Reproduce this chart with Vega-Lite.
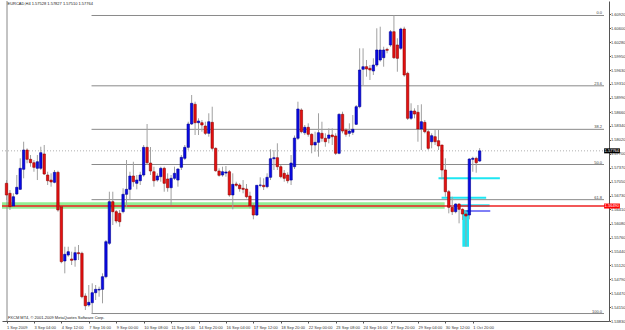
{
  "$schema": "https://vega.github.io/schema/vega-lite/v6.json",
  "width": 607,
  "height": 320,
  "autosize": "none",
  "padding": {"left": 2, "top": 1, "right": 16, "bottom": 9},
  "background": "#ffffff",
  "config": {
    "view": {"stroke": null},
    "axis": {"labelFont": "Liberation Sans", "labelFontSize": 4, "labelColor": "#333", "domainColor": "#555", "tickColor": "#555", "grid": false, "title": null, "labelOverlap": false, "labelFlush": false, "tickCount": 200},
    "text": {"font": "Liberation Sans"}
  },
  "datasets": {
    "candles": [
      {"i":0,"o":1.57013,"h":1.57089,"l":1.56627,"c":1.56743},
      {"i":1,"o":1.56782,"h":1.56858,"l":1.56396,"c":1.56472},
      {"i":2,"o":1.56488,"h":1.56782,"l":1.56472,"c":1.56703},
      {"i":3,"o":1.56766,"h":1.57205,"l":1.56743,"c":1.56921},
      {"i":4,"o":1.56874,"h":1.57591,"l":1.56858,"c":1.57360},
      {"i":5,"o":1.57337,"h":1.57975,"l":1.57129,"c":1.57783},
      {"i":6,"o":1.57783,"h":1.57822,"l":1.57476,"c":1.57568},
      {"i":7,"o":1.57568,"h":1.57667,"l":1.57397,"c":1.57489},
      {"i":8,"o":1.57489,"h":1.57552,"l":1.57281,"c":1.57383},
      {"i":9,"o":1.57360,"h":1.57667,"l":1.57089,"c":1.57512},
      {"i":10,"o":1.57360,"h":1.57859,"l":1.57321,"c":1.57721},
      {"i":11,"o":1.57691,"h":1.57899,"l":1.57205,"c":1.57228},
      {"i":12,"o":1.57205,"h":1.57281,"l":1.56974,"c":1.57073},
      {"i":13,"o":1.57089,"h":1.57244,"l":1.56935,"c":1.57043},
      {"i":14,"o":1.57036,"h":1.57321,"l":1.57013,"c":1.57267},
      {"i":15,"o":1.57267,"h":1.57304,"l":1.56357,"c":1.56396},
      {"i":16,"o":1.56472,"h":1.56488,"l":1.55164,"c":1.55201},
      {"i":17,"o":1.55217,"h":1.55547,"l":1.54932,"c":1.55372},
      {"i":18,"o":1.55355,"h":1.55547,"l":1.55316,"c":1.55432},
      {"i":19,"o":1.55263,"h":1.55432,"l":1.55124,"c":1.55233},
      {"i":20,"o":1.55240,"h":1.55547,"l":1.55085,"c":1.55409},
      {"i":21,"o":1.55409,"h":1.55587,"l":1.55240,"c":1.55386},
      {"i":22,"o":1.55395,"h":1.55432,"l":1.54354,"c":1.54391},
      {"i":23,"o":1.54408,"h":1.54470,"l":1.54084,"c":1.54183},
      {"i":24,"o":1.54199,"h":1.54662,"l":1.54160,"c":1.54262},
      {"i":25,"o":1.54253,"h":1.54701,"l":1.54003,"c":1.54484},
      {"i":26,"o":1.54484,"h":1.54662,"l":1.54315,"c":1.54562},
      {"i":27,"o":1.54546,"h":1.54623,"l":1.54391,"c":1.54562},
      {"i":28,"o":1.54562,"h":1.54932,"l":1.54239,"c":1.54854},
      {"i":29,"o":1.54854,"h":1.55702,"l":1.54817,"c":1.55663},
      {"i":30,"o":1.55626,"h":1.56819,"l":1.55587,"c":1.56588},
      {"i":31,"o":1.56588,"h":1.56819,"l":1.56049,"c":1.56357},
      {"i":32,"o":1.56357,"h":1.56396,"l":1.56088,"c":1.56142},
      {"i":33,"o":1.56319,"h":1.56396,"l":1.56010,"c":1.56125},
      {"i":34,"o":1.56357,"h":1.56898,"l":1.56319,"c":1.56759},
      {"i":35,"o":1.56759,"h":1.57552,"l":1.56472,"c":1.56874},
      {"i":36,"o":1.56874,"h":1.57281,"l":1.56627,"c":1.57182},
      {"i":37,"o":1.57182,"h":1.57512,"l":1.56935,"c":1.57050},
      {"i":38,"o":1.57013,"h":1.57205,"l":1.56874,"c":1.57089},
      {"i":39,"o":1.57073,"h":1.57281,"l":1.56974,"c":1.57205},
      {"i":40,"o":1.57205,"h":1.57899,"l":1.57166,"c":1.57845},
      {"i":41,"o":1.57845,"h":1.58384,"l":1.57436,"c":1.57489},
      {"i":42,"o":1.57482,"h":1.57852,"l":1.57205,"c":1.57298},
      {"i":43,"o":1.57281,"h":1.57397,"l":1.56935,"c":1.57073},
      {"i":44,"o":1.57089,"h":1.57244,"l":1.57050,"c":1.57182},
      {"i":45,"o":1.57166,"h":1.57397,"l":1.57050,"c":1.57360},
      {"i":46,"o":1.57360,"h":1.57397,"l":1.56819,"c":1.57013},
      {"i":47,"o":1.57113,"h":1.57244,"l":1.56819,"c":1.56911},
      {"i":48,"o":1.56911,"h":1.57205,"l":1.56511,"c":1.57129},
      {"i":49,"o":1.57129,"h":1.57397,"l":1.57089,"c":1.57244},
      {"i":50,"o":1.57089,"h":1.57360,"l":1.56935,"c":1.57344},
      {"i":51,"o":1.57383,"h":1.57667,"l":1.57321,"c":1.57614},
      {"i":52,"o":1.57591,"h":1.57899,"l":1.57552,"c":1.57845},
      {"i":53,"o":1.57845,"h":1.58437,"l":1.57783,"c":1.58384},
      {"i":54,"o":1.58384,"h":1.59055,"l":1.58361,"c":1.58863},
      {"i":55,"o":1.58840,"h":1.58900,"l":1.58130,"c":1.58414},
      {"i":56,"o":1.58414,"h":1.58516,"l":1.58130,"c":1.58453},
      {"i":57,"o":1.58414,"h":1.58477,"l":1.58206,"c":1.58361},
      {"i":58,"o":1.58338,"h":1.58437,"l":1.58130,"c":1.58169},
      {"i":59,"o":1.58169,"h":1.58632,"l":1.58091,"c":1.58437},
      {"i":60,"o":1.58423,"h":1.58784,"l":1.57783,"c":1.57822},
      {"i":61,"o":1.57822,"h":1.57845,"l":1.57281,"c":1.57304},
      {"i":62,"o":1.57298,"h":1.57360,"l":1.57166,"c":1.57198},
      {"i":63,"o":1.57205,"h":1.57397,"l":1.57166,"c":1.57281},
      {"i":64,"o":1.57250,"h":1.57413,"l":1.57166,"c":1.57275},
      {"i":65,"o":1.57281,"h":1.57321,"l":1.56703,"c":1.56743},
      {"i":66,"o":1.56743,"h":1.57244,"l":1.56412,"c":1.56990},
      {"i":67,"o":1.56997,"h":1.57050,"l":1.56935,"c":1.56967},
      {"i":68,"o":1.56974,"h":1.57013,"l":1.56819,"c":1.56888},
      {"i":69,"o":1.56898,"h":1.57089,"l":1.56782,"c":1.56874},
      {"i":70,"o":1.56881,"h":1.56997,"l":1.56666,"c":1.56703},
      {"i":71,"o":1.56720,"h":1.56819,"l":1.56435,"c":1.56488},
      {"i":72,"o":1.56495,"h":1.56551,"l":1.56181,"c":1.56280},
      {"i":73,"o":1.56280,"h":1.56974,"l":1.56257,"c":1.56967},
      {"i":74,"o":1.56967,"h":1.57152,"l":1.56921,"c":1.56974},
      {"i":75,"o":1.56967,"h":1.57129,"l":1.56858,"c":1.56935},
      {"i":76,"o":1.56935,"h":1.57244,"l":1.56898,"c":1.57152},
      {"i":77,"o":1.57152,"h":1.57799,"l":1.57089,"c":1.57582},
      {"i":78,"o":1.57582,"h":1.57783,"l":1.57321,"c":1.57605},
      {"i":79,"o":1.57605,"h":1.57938,"l":1.57321,"c":1.57397},
      {"i":80,"o":1.57397,"h":1.57436,"l":1.57129,"c":1.57166},
      {"i":81,"o":1.57244,"h":1.57321,"l":1.57050,"c":1.57129},
      {"i":82,"o":1.57205,"h":1.57267,"l":1.57013,"c":1.57073},
      {"i":83,"o":1.57089,"h":1.57667,"l":1.56974,"c":1.57482},
      {"i":84,"o":1.57397,"h":1.58118,"l":1.57344,"c":1.58060},
      {"i":85,"o":1.58054,"h":1.58900,"l":1.58014,"c":1.58731},
      {"i":86,"o":1.58708,"h":1.58747,"l":1.58169,"c":1.58206},
      {"i":87,"o":1.58183,"h":1.58361,"l":1.58130,"c":1.58308},
      {"i":88,"o":1.58308,"h":1.58400,"l":1.58091,"c":1.58146},
      {"i":89,"o":1.58146,"h":1.58169,"l":1.57707,"c":1.57899},
      {"i":90,"o":1.57899,"h":1.58206,"l":1.57744,"c":1.57961},
      {"i":91,"o":1.57961,"h":1.58632,"l":1.57628,"c":1.58183},
      {"i":92,"o":1.58169,"h":1.58437,"l":1.57975,"c":1.58054},
      {"i":93,"o":1.58054,"h":1.58169,"l":1.57859,"c":1.57975},
      {"i":94,"o":1.58054,"h":1.58285,"l":1.57938,"c":1.58130},
      {"i":95,"o":1.58130,"h":1.58285,"l":1.57899,"c":1.58091},
      {"i":96,"o":1.58107,"h":1.58169,"l":1.57667,"c":1.57707},
      {"i":97,"o":1.57707,"h":1.58632,"l":1.57684,"c":1.58608},
      {"i":98,"o":1.58608,"h":1.58669,"l":1.58169,"c":1.58222},
      {"i":99,"o":1.58245,"h":1.58285,"l":1.58091,"c":1.58146},
      {"i":100,"o":1.58169,"h":1.58400,"l":1.58091,"c":1.58222},
      {"i":101,"o":1.58192,"h":1.58592,"l":1.58130,"c":1.58262},
      {"i":102,"o":1.58377,"h":1.58823,"l":1.58361,"c":1.58784},
      {"i":103,"o":1.58784,"h":1.60134,"l":1.58747,"c":1.59633},
      {"i":104,"o":1.59649,"h":1.60134,"l":1.59286,"c":1.59709},
      {"i":105,"o":1.59709,"h":1.59864,"l":1.59478,"c":1.59656},
      {"i":106,"o":1.59672,"h":1.59748,"l":1.59401,"c":1.59633},
      {"i":107,"o":1.59610,"h":1.59903,"l":1.59517,"c":1.59748},
      {"i":108,"o":1.59748,"h":1.60597,"l":1.59709,"c":1.60095},
      {"i":109,"o":1.59864,"h":1.60634,"l":1.59825,"c":1.60095},
      {"i":110,"o":1.59917,"h":1.60171,"l":1.59709,"c":1.60095},
      {"i":111,"o":1.60111,"h":1.60148,"l":1.60019,"c":1.60088},
      {"i":112,"o":1.60211,"h":1.60557,"l":1.60171,"c":1.60518},
      {"i":113,"o":1.60518,"h":1.60893,"l":1.59887,"c":1.59917},
      {"i":114,"o":1.60211,"h":1.60366,"l":1.59593,"c":1.59903},
      {"i":115,"o":1.60134,"h":1.60611,"l":1.60095,"c":1.60581},
      {"i":116,"o":1.60581,"h":1.60634,"l":1.59478,"c":1.59517},
      {"i":117,"o":1.59556,"h":1.59593,"l":1.58477,"c":1.58516},
      {"i":118,"o":1.58516,"h":1.58863,"l":1.58477,"c":1.58685},
      {"i":119,"o":1.58685,"h":1.58747,"l":1.58516,"c":1.58615},
      {"i":120,"o":1.58655,"h":1.58823,"l":1.57975,"c":1.58269},
      {"i":121,"o":1.58269,"h":1.58840,"l":1.57783,"c":1.58437},
      {"i":122,"o":1.58423,"h":1.58477,"l":1.58169,"c":1.58206},
      {"i":123,"o":1.58206,"h":1.58245,"l":1.57783,"c":1.57822},
      {"i":124,"o":1.57975,"h":1.58169,"l":1.57822,"c":1.58114},
      {"i":125,"o":1.58091,"h":1.58245,"l":1.57899,"c":1.57975},
      {"i":126,"o":1.57998,"h":1.58245,"l":1.57783,"c":1.57876},
      {"i":127,"o":1.57899,"h":1.57899,"l":1.57106,"c":1.57321},
      {"i":128,"o":1.57321,"h":1.57591,"l":1.56703,"c":1.56819},
      {"i":129,"o":1.56819,"h":1.56858,"l":1.56319,"c":1.56458},
      {"i":130,"o":1.56458,"h":1.56703,"l":1.56280,"c":1.56357},
      {"i":131,"o":1.56357,"h":1.56551,"l":1.56319,"c":1.56535},
      {"i":132,"o":1.56535,"h":1.56551,"l":1.56088,"c":1.56412},
      {"i":133,"o":1.56412,"h":1.56435,"l":1.56165,"c":1.56303},
      {"i":134,"o":1.56303,"h":1.56396,"l":1.55547,"c":1.56257},
      {"i":135,"o":1.56280,"h":1.57591,"l":1.56181,"c":1.57575},
      {"i":136,"o":1.57568,"h":1.57628,"l":1.57281,"c":1.57591},
      {"i":137,"o":1.57591,"h":1.57628,"l":1.57258,"c":1.57489},
      {"i":138,"o":1.57528,"h":1.57827,"l":1.57510,"c":1.57764}
    ],
    "fib": [
      {"level":"0.0","p":1.60893,"start":24.8},
      {"level":"23.6","p":1.59267,"start":24.8},
      {"level":"38.2","p":1.58261,"start":24.8},
      {"level":"50.0","p":1.57448,"start":24.8},
      {"level":"61.8","p":1.56635,"start":24.8},
      {"level":"100.0","p":1.54003,"start":24.8}
    ],
    "zones": [
      {"name":"support","i1":-2,"i2":127.8,"p1":1.56574,"p2":1.56426,"kind":"green"},
      {"name":"c1","i1":126.0,"i2":143.9,"p1":1.57152,"p2":1.57106,"kind":"cyan"},
      {"name":"c2","i1":126.9,"i2":139.9,"p1":1.56703,"p2":1.56657,"kind":"cyan"},
      {"name":"c3","i1":132.5,"i2":140.9,"p1":1.56528,"p2":1.56472,"kind":"cyan"},
      {"name":"c4","i1":132.96,"i2":134.9,"p1":1.56396,"p2":1.55547,"kind":"cyan"}
    ]
  },
  "layer": [
    {
      "data": {"name": "zones"},
      "transform": [{"filter": "datum.kind == 'green'"}],
      "mark": {"type": "rect", "clip": true, "color": "#92ee92"},
      "encoding": {
        "x": {"field": "i1", "type": "quantitative", "scale": {"domain": [0.143, 174.27], "nice": false, "zero": false},
          "axis": {"orient": "bottom", "values": [0,8,16,24,32,40,48,56,64,72,80,88,96,104,112,120,128,136],
            "labelExpr": "['1 Sep 2009','3 Sep 04:00','4 Sep 12:00','7 Sep 16:00','9 Sep 00:00','10 Sep 08:00','11 Sep 16:00','14 Sep 20:00','16 Sep 04:00','17 Sep 12:00','18 Sep 20:00','22 Sep 00:00','23 Sep 08:00','24 Sep 16:00','27 Sep 20:00','29 Sep 04:00','30 Sep 12:00','1 Oct 20:00'][round(datum.value/8)]",
            "labelAlign": "left", "labelBaseline": "top", "labelPadding": 2, "tickSize": 2, "labelOverlap": false, "labelFlush": false, "labelBound": false, "tickCount": 200}},
        "x2": {"field": "i2"},
        "y": {"field": "p1", "type": "quantitative", "scale": {"domain": [1.5383, 1.61228], "nice": false, "zero": false},
          "axis": {"orient": "right", "values": [1.6092,1.606,1.6028,1.5995,1.5963,1.5931,1.5899,1.5866,1.5834,1.5802,1.577,1.5737,1.5705,1.5673,1.5641,1.5608,1.5576,1.5544,1.5512,1.5479,1.5447,1.5415,1.5383],
            "format": ".5f", "tickSize": 1.5, "labelPadding": 0, "labelOverlap": false, "labelFlush": false, "labelBaseline": "middle", "tickCount": 200}},
        "y2": {"field": "p2"}
      }
    },
    {
      "data": {"values": [{}]},
      "mark": {"type": "rule", "color": "#888888", "strokeWidth": 1},
      "encoding": {"x": {"datum": 0.143}}
    },
    {
      "data": {"name": "fib"},
      "mark": {"type": "rule", "color": "#8a8a8a", "strokeWidth": 1, "clip": true},
      "encoding": {
        "x": {"field": "start", "type": "quantitative"},
        "x2": {"datum": 174.27},
        "y": {"field": "p", "type": "quantitative"}
      }
    },
    {
      "data": {"values": [{"p": 1.57764}]},
      "mark": {"type": "rule", "color": "#b0b0b0", "strokeWidth": 1, "strokeDash": [1, 2], "clip": true},
      "encoding": {"y": {"field": "p", "type": "quantitative"}}
    },
    {
      "data": {"name": "zones"},
      "transform": [{"filter": "datum.kind == 'cyan'"}],
      "mark": {"type": "rect", "clip": true, "color": "#1ee6f2"},
      "encoding": {
        "x": {"field": "i1", "type": "quantitative"},
        "x2": {"field": "i2"},
        "y": {"field": "p1", "type": "quantitative"},
        "y2": {"field": "p2"}
      }
    },
    {
      "data": {"values": [{"p": 1.56488}]},
      "mark": {"type": "rule", "color": "#ee2020", "strokeWidth": 1.5, "clip": true},
      "encoding": {"y": {"field": "p", "type": "quantitative"}}
    },
    {
      "data": {"values": [{"p": 1.56373, "a": 133.9, "b": 141.1}]},
      "mark": {"type": "rule", "color": "#0000ee", "strokeWidth": 1, "clip": true},
      "encoding": {"x": {"field": "a", "type": "quantitative"}, "x2": {"field": "b"}, "y": {"field": "p", "type": "quantitative"}}
    },
    {
      "data": {"name": "candles"},
      "mark": {"type": "rule", "color": "#a0a0a0", "strokeWidth": 1, "clip": true},
      "encoding": {
        "x": {"field": "i", "type": "quantitative"},
        "y": {"field": "l", "type": "quantitative"},
        "y2": {"field": "h"}
      }
    },
    {
      "data": {"name": "candles"},
      "mark": {"type": "bar", "size": 2.4, "strokeWidth": 0.6, "clip": true},
      "encoding": {
        "x": {"field": "i", "type": "quantitative"},
        "y": {"field": "o", "type": "quantitative"},
        "y2": {"field": "c"},
        "fill": {"condition": {"test": "datum.c >= datum.o", "value": "#0a0ae6"}, "value": "#e61010"},
        "stroke": {"condition": {"test": "datum.c >= datum.o", "value": "#000090"}, "value": "#900000"}
      }
    },
    {
      "data": {"name": "fib"},
      "mark": {"type": "text", "align": "right", "baseline": "bottom", "fontSize": 4, "color": "#444", "dx": -2, "dy": 0},
      "encoding": {
        "x": {"datum": 174.27},
        "y": {"field": "p", "type": "quantitative"},
        "text": {"field": "level"}
      }
    },
    {
      "data": {"values": [{}]},
      "layer": [
        {"mark": {"type": "text", "align": "left", "baseline": "middle", "fontSize": 4, "color": "#222"},
         "encoding": {"x": {"datum": 0.3}, "y": {"datum": 1.6116}, "text": {"value": "EURCAD,H4  1.57528 1.57827 1.57510 1.57764"}}},
        {"mark": {"type": "text", "align": "left", "baseline": "middle", "fontSize": 4, "color": "#222"},
         "encoding": {"x": {"datum": 0.4}, "y": {"datum": 1.5390}, "text": {"value": "FXCM MT4, © 2001-2009 MetaQuotes Software Corp."}}},
        {"mark": {"type": "rect", "color": "#000000"},
         "encoding": {"x": {"datum": 174.3}, "x2": {"datum": 178.9}, "y": {"datum": 1.57822}, "y2": {"datum": 1.57706}}},
        {"mark": {"type": "text", "align": "left", "baseline": "middle", "fontSize": 4, "color": "#ffffff", "dx": 0.5},
         "encoding": {"x": {"datum": 174.3}, "y": {"datum": 1.57764}, "text": {"value": "1.57764"}}},
        {"mark": {"type": "rect", "color": "#ff0000"},
         "encoding": {"x": {"datum": 174.3}, "x2": {"datum": 178.9}, "y": {"datum": 1.56546}, "y2": {"datum": 1.5643}}},
        {"mark": {"type": "text", "align": "left", "baseline": "middle", "fontSize": 4, "color": "#ffffff", "dx": 0.5},
         "encoding": {"x": {"datum": 174.3}, "y": {"datum": 1.56488}, "text": {"value": "1.56490"}}}
      ]
    }
  ]
}
